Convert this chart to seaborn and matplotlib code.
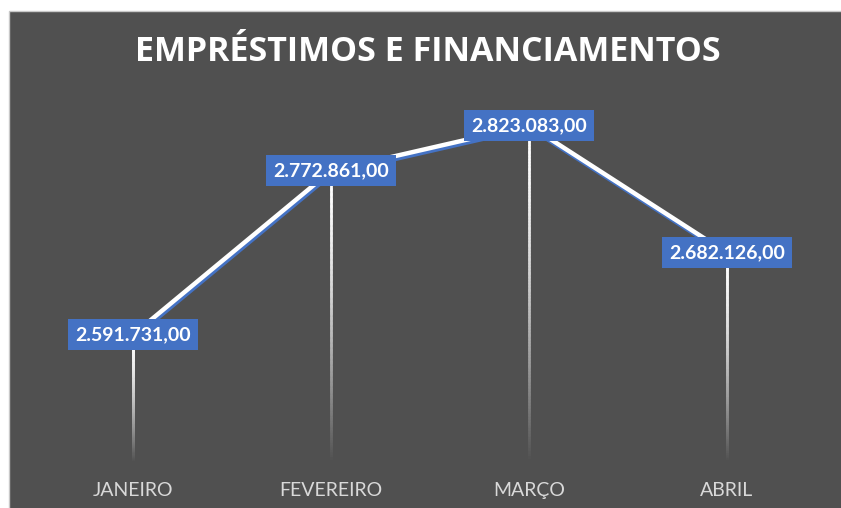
import numpy as np
import pandas as pd
import matplotlib
matplotlib.use("Agg")
import matplotlib.pyplot as plt
import matplotlib.patheffects as pe
from matplotlib.collections import LineCollection
from matplotlib.patches import Rectangle
from matplotlib.colors import to_rgb
import seaborn as sns

# --- dados ---
meses = ["JANEIRO", "FEVEREIRO", "MARÇO", "ABRIL"]
valores = [2591731.00, 2772861.00, 2823083.00, 2682126.00]
titulo = "EMPRÉSTIMOS E FINANCIAMENTOS"
y_min, y_max = 2450000, 2850000

BG = "#505050"
AZUL = "#4472C4"
W, H = 841, 508


def fmt_br(v):
    # 2,591,731.00 -> 2.591.731,00
    return f"{v:,.2f}".replace(",", "X").replace(".", ",").replace("X", ".")


sns.set_theme(style="white")
plt.rcParams["font.family"] = ["Lato", "DejaVu Sans"]

fig = plt.figure(figsize=(W / 100, H / 100), dpi=100)
fig.patch.set_facecolor("white")
fig.patches.append(Rectangle((9 / W, -0.01), 1.01 - 9 / W, 1.01 - 11 / H,
                             transform=fig.transFigure, facecolor=BG,
                             edgecolor="#c8c8c8", lw=1, zorder=-5))

ax = fig.add_axes([34 / W, 1 - 463 / H, (826 - 34) / W, (463 - 101) / H])
ax.set_facecolor("none")
ax.set_zorder(2)

df = pd.DataFrame({"mes": meses, "valor": valores})
df["x"] = np.arange(len(df))

# linhas de projeção com degradê (branco -> fundo)
n = 120
bg_rgb = np.array(to_rgb(BG))
white = np.array([1.0, 1.0, 1.0])
for xi, v in zip(df["x"], df["valor"]):
    ys = np.linspace(v, y_min, n + 1)
    segs = [[(xi, ys[i]), (xi, ys[i + 1])] for i in range(n)]
    t = np.linspace(0, 1, n) ** 1.6
    cols = [(1 - k) * white + k * bg_rgb for k in t]
    ax.add_collection(LineCollection(segs, colors=cols, linewidths=1.8,
                                     capstyle="projecting", zorder=1))

# linha principal com sombra azul
sns.lineplot(data=df, x="x", y="valor", color="white", lw=3.2, ax=ax,
             zorder=3, solid_capstyle="butt",
             path_effects=[pe.SimpleLineShadow(offset=(0.8, -1.9), shadow_color=AZUL,
                                               alpha=1, rho=1),
                           pe.Normal()])

# rótulos de dados
for xi, v in zip(df["x"], df["valor"]):
    ax.text(xi, v, fmt_br(v), ha="center", va="center", color="white",
            fontsize=14, fontweight="bold", zorder=5,
            bbox=dict(boxstyle="square,pad=0.36", fc=AZUL, ec="none"))

ax.set_xlim(-0.5, len(df) - 0.5)
ax.set_ylim(y_min, y_max)
ax.set_xticks(df["x"], meses)
ax.set_yticks([])
ax.set_xlabel("")
ax.set_ylabel("")
ax.tick_params(axis="x", length=0, labelcolor="#d9d9d9", labelsize=14, pad=14)
sns.despine(ax=ax, left=True, bottom=True)

fig.text(428 / W, 1 - 52 / H, titulo, ha="center", va="center", color="white",
         fontsize=24.5, fontweight="bold", family=["Open Sans", "DejaVu Sans"])

fig.savefig("out.png", dpi=100, facecolor=fig.get_facecolor())
